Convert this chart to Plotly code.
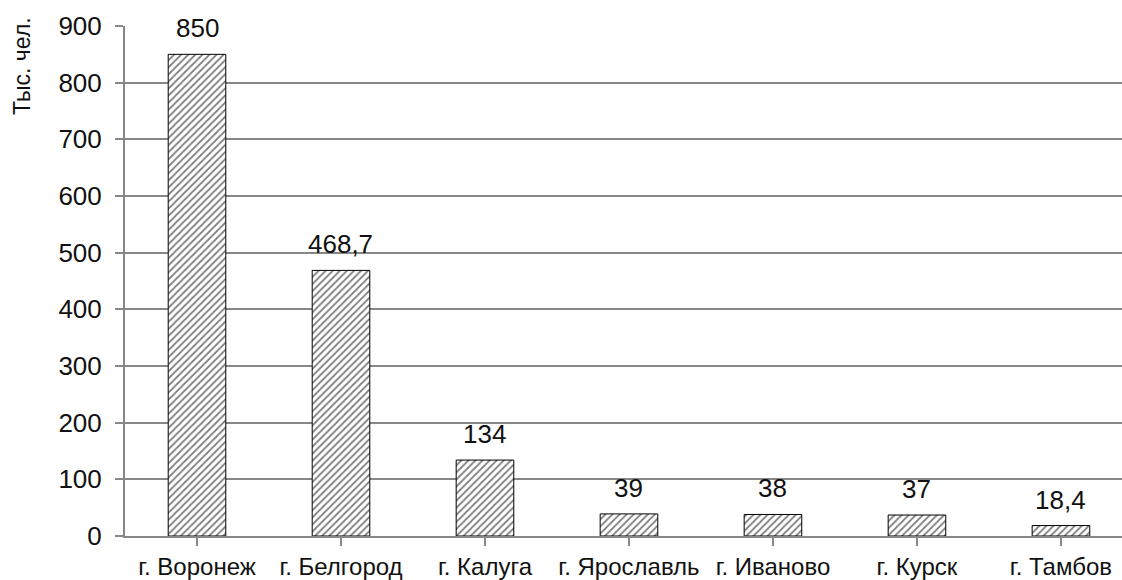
import plotly.graph_objects as go

categories = ["г. Воронеж", "г. Белгород", "г. Калуга", "г. Ярославль", "г. Иваново", "г. Курск", "г. Тамбов"]
values = [850, 468.7, 134, 39, 38, 37, 18.4]
y_ticks = [0, 100, 200, 300, 400, 500, 600, 700, 800, 900]
y_title = "Тыс. чел."

FONT = "Liberation Sans, Arial, sans-serif"
GRID = "#878787"

x_idx = list(range(len(categories)))

fig = go.Figure()
fig.add_trace(go.Bar(
    x=x_idx,
    y=values,
    width=0.4,
    marker=dict(
        color="white",
        line=dict(color="#000000", width=1),
        pattern=dict(shape="/", size=5, solidity=0.35, fgcolor="#000000", bgcolor="white"),
    ),
    showlegend=False,
    hoverinfo="skip",
))

for xi, v in zip(x_idx, values):
    fig.add_annotation(
        x=xi, y=v, xref="x", yref="y",
        text=f"{v:g}".replace(".", ","),
        showarrow=False, yanchor="middle", yshift=26,
        font=dict(family=FONT, size=26, color="#111111"),
    )

fig.add_annotation(
    xref="paper", yref="paper", x=0, y=0.9216, xshift=-103,
    text=y_title, textangle=-90, showarrow=False,
    xanchor="center", yanchor="middle",
    font=dict(family=FONT, size=23, color="#111111"),
)

fig.update_layout(
    width=1122, height=580,
    margin=dict(l=125, r=0, t=26, b=44),
    paper_bgcolor="white", plot_bgcolor="white",
    bargap=0.6,
)
fig.update_xaxes(
    range=[-0.5, 6.424],
    tickmode="array", tickvals=x_idx, ticktext=categories,
    tickson="boundaries", ticks="outside", ticklen=8, tickwidth=2, tickcolor=GRID,
    showline=True, linecolor=GRID, linewidth=2,
    showgrid=False, zeroline=False,
    tickfont=dict(family=FONT, size=24, color="#111111"),
)
fig.update_yaxes(
    range=[0, 900],
    tickmode="array", tickvals=y_ticks, ticktext=[str(t) for t in y_ticks],
    ticks="outside", ticklen=8, tickwidth=2, tickcolor=GRID,
    showline=True, linecolor=GRID, linewidth=2,
    showgrid=True, gridcolor=GRID, gridwidth=2,
    zeroline=False,
    ticklabelstandoff=8,
    tickfont=dict(family=FONT, size=26, color="#111111"),
)

fig.write_html("out.html")
